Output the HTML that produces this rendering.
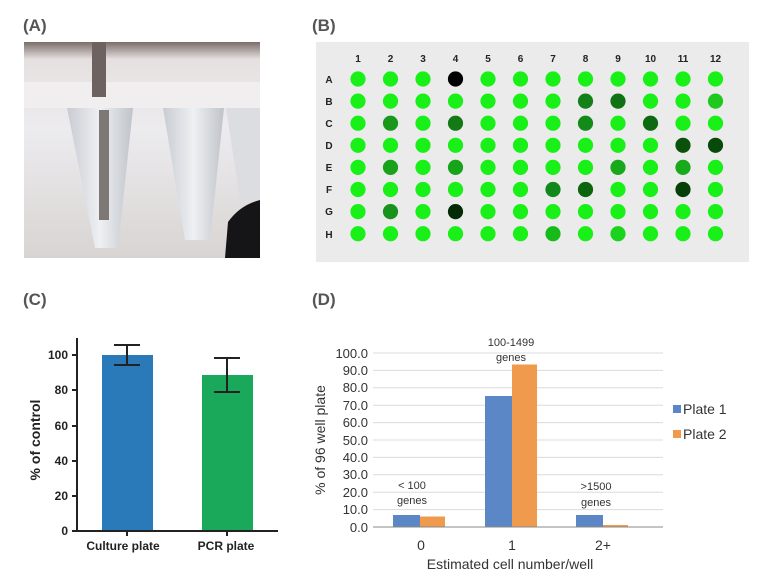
<!DOCTYPE html>
<html><head><meta charset="utf-8"><style>
body{margin:0;background:#fff;width:766px;height:584px;overflow:hidden}
svg{display:block}
</style></head><body>
<svg width="766" height="584" xmlns="http://www.w3.org/2000/svg" font-family="Liberation Sans, sans-serif">
<g font-size="17" font-weight="bold" fill="#555">
<text x="23" y="31">(A)</text><text x="312" y="31">(B)</text>
<text x="23" y="305">(C)</text><text x="312" y="305">(D)</text>
</g>
<!-- Photo A -->
<defs>
<linearGradient id="pg" x1="0" y1="0" x2="0" y2="1">
<stop offset="0" stop-color="#7a6e6a"/><stop offset="0.08" stop-color="#e6e0e0"/><stop offset="0.4" stop-color="#ecebee"/><stop offset="1" stop-color="#d8d4d2"/></linearGradient>
<linearGradient id="tube" x1="0" y1="0" x2="1" y2="0">
<stop offset="0" stop-color="#c8ccd2"/><stop offset="0.5" stop-color="#eef0f3"/><stop offset="1" stop-color="#bfc3c9"/></linearGradient>
</defs>
<rect x="24" y="42" width="236" height="216" fill="url(#pg)"/>
<rect x="24" y="82" width="236" height="26" fill="#f1eeee" opacity="0.9"/>
<path d="M67 108 L133 108 L118 248 L95 248 Z" fill="url(#tube)"/>
<path d="M163 108 L224 108 L210 240 L185 240 Z" fill="url(#tube)"/>
<path d="M226 108 L260 108 L260 200 L240 200 Z" fill="#dcdde0"/>
<rect x="92" y="42" width="14" height="55" fill="#6d6260"/>
<rect x="99" y="110" width="10" height="110" fill="#7d7775"/>
<path d="M225 258 L260 258 L260 200 Q240 205 228 222 Z" fill="#151517"/>
<!-- Plate B -->
<rect x="316" y="42" width="433" height="220" fill="#ebebeb"/>
<g font-size="10" font-weight="bold" fill="#222" text-anchor="middle">
<text x="358" y="62">1</text><text x="390.5" y="62">2</text><text x="423" y="62">3</text><text x="455.5" y="62">4</text><text x="488" y="62">5</text><text x="520.5" y="62">6</text><text x="553" y="62">7</text><text x="585.5" y="62">8</text><text x="618" y="62">9</text><text x="650.5" y="62">10</text><text x="683" y="62">11</text><text x="715.5" y="62">12</text>
<text x="329" y="83">A</text><text x="329" y="105">B</text><text x="329" y="127">C</text><text x="329" y="149">D</text><text x="329" y="171">E</text><text x="329" y="193">F</text><text x="329" y="215">G</text><text x="329" y="238">H</text>
</g>
<g id="wells"></g>
<!-- Panel C -->
<g>
<rect x="102" y="355" width="51" height="176" fill="#2a7aba"/>
<rect x="202" y="375" width="51" height="156" fill="#1aa85a"/>
<g stroke="#222" stroke-width="2" fill="none">
<path d="M77 338 V531 H278"/>
<path d="M72 355H77M72 390H77M72 426H77M72 461H77M72 496H77M72 531H77M127 531V536M227 531V536"/>
<path d="M127 345V365M114 345H140M114 365H140"/>
<path d="M227 358V392M214 358H240M214 392H240"/>
</g>
<g font-size="12" font-weight="bold" fill="#222" text-anchor="end">
<text x="68" y="359">100</text><text x="68" y="394">80</text><text x="68" y="430">60</text><text x="68" y="465">40</text><text x="68" y="500">20</text><text x="68" y="535">0</text>
</g>
<g font-size="12" font-weight="bold" fill="#222" text-anchor="middle">
<text x="123" y="550">Culture plate</text><text x="226" y="550">PCR  plate</text>
<text transform="translate(40,440) rotate(-90)" font-size="14">% of control</text>
</g>
</g>
<!-- Panel D -->
<g stroke="#dcdcdc" stroke-width="1">
<path d="M373 353H663M373 370.4H663M373 387.8H663M373 405.2H663M373 422.6H663M373 440H663M373 457.4H663M373 474.8H663M373 492.2H663M373 509.6H663"/>
</g>
<g>
<rect x="393" y="515" width="27" height="12" fill="#5b87c6"/><rect x="420" y="516.5" width="25" height="10.5" fill="#ef9a4c"/>
<rect x="485" y="396" width="27" height="131" fill="#5b87c6"/><rect x="512" y="364.5" width="25" height="162.5" fill="#ef9a4c"/>
<rect x="576" y="515" width="27" height="12" fill="#5b87c6"/><rect x="603" y="525" width="25" height="2" fill="#ef9a4c"/>
</g>
<path d="M373 527H663" stroke="#888" stroke-width="1"/>
<g font-size="13" fill="#333" text-anchor="end">
<text x="368" y="358">100.0</text><text x="368" y="375">90.0</text><text x="368" y="392">80.0</text><text x="368" y="410">70.0</text><text x="368" y="427">60.0</text><text x="368" y="445">50.0</text><text x="368" y="462">40.0</text><text x="368" y="479">30.0</text><text x="368" y="497">20.0</text><text x="368" y="514">10.0</text><text x="368" y="532">0.0</text>
</g>
<g font-size="11" fill="#333" text-anchor="middle">
<text x="412" y="489">&lt; 100</text><text x="412" y="504">genes</text>
<text x="511" y="346">100-1499</text><text x="511" y="361">genes</text>
<text x="596" y="490">&gt;1500</text><text x="596" y="506">genes</text>
</g>
<g font-size="14" fill="#333" text-anchor="middle">
<text x="421" y="550">0</text><text x="512" y="550">1</text><text x="603" y="550">2+</text>
<text x="510" y="569">Estimated cell number/well</text>
<text transform="translate(325,440) rotate(-90)">% of 96 well plate</text>
</g>
<rect x="673" y="405" width="8" height="8" fill="#5b87c6"/><text x="683" y="414" font-size="14" fill="#333">Plate 1</text>
<rect x="673" y="430" width="8" height="8" fill="#ef9a4c"/><text x="683" y="439" font-size="14" fill="#333">Plate 2</text>
</svg>
<script>
var dark={"A4":"#000","B8":"#13801a","B9":"#0f7314","B12":"#1fc81f","C2":"#18991b","C4":"#137a15","C8":"#148a18","C10":"#0d6a10","D11":"#0a520c","D12":"#084a09","E2":"#18a21b","E4":"#16a41a","E9":"#18a81b","E11":"#19aa1c","F7":"#13881a","F8":"#0d640f","F11":"#063f07","G2":"#17921a","G4":"#042a06","H7":"#17bb19","H9":"#1bd21d"};
var rows="ABCDEFGH",g=document.getElementById("wells"),s="";
for(var r=0;r<8;r++)for(var c=1;c<=12;c++){var col=dark[rows[r]+c]||"#18f018";
s+='<circle cx="'+(358+(c-1)*32.5)+'" cy="'+(79+r*22.1)+'" r="7.6" fill="'+col+'"/>';}
g.innerHTML=s;
</script>
</body></html>
